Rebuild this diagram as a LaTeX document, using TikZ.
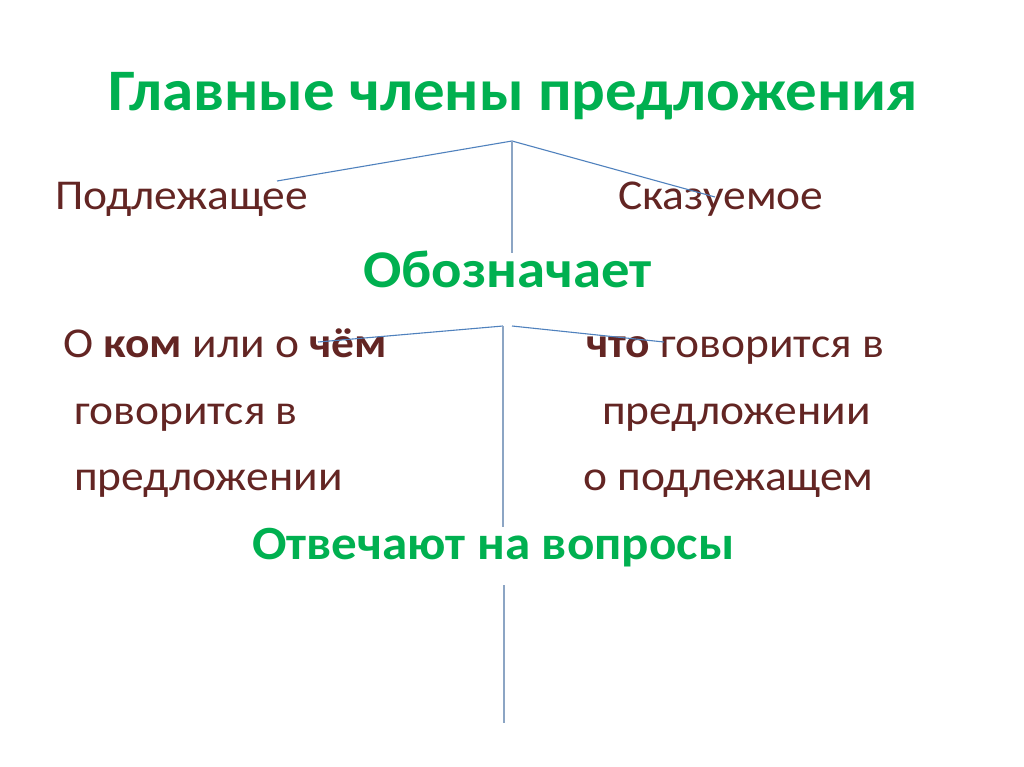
\documentclass[tikz,border=0pt]{standalone}
\usepackage{fontspec}
\setmainfont[FakeStretch=1.07]{Carlito}
\definecolor{tgreen}{HTML}{00B050}
\definecolor{tred}{HTML}{632523}
\definecolor{tline}{HTML}{4F81BD}
\definecolor{tvline}{HTML}{8CA5C4}
\begin{document}
\begin{tikzpicture}[x=1pt,y=-1pt,
  head/.style={text=tgreen,font=\fontsize{58.8}{64}\selectfont\bfseries,anchor=base west,inner sep=0pt},
  subA/.style={text=tgreen,font=\fontsize{53}{60}\selectfont\bfseries,anchor=base west,inner sep=0pt},
  subB/.style={text=tgreen,font=\fontsize{47.7}{54}\selectfont\bfseries,anchor=base west,inner sep=0pt},
  body/.style={text=tred,font=\fontsize{42.5}{50}\selectfont,anchor=base west,inner sep=0pt},
  conn/.style={draw=tline,line width=1.1pt},
  vconn/.style={draw=tvline,line width=1.3pt}]
\useasboundingbox[fill=white] (0,0) rectangle (1024,767);
\node[head] (title) at (108,111) {Главные члены предложения};
\node[body] (subj) at (55,210) {Подлежащее};
\node[body] (pred) at (618,210) {Сказуемое};
\node[subA] (mean) at (363,287) {Обозначает};
\node[body] (l1) at (63,357) {О \textbf{ком} или о \textbf{чём}};
\node[body] (r1) at (586,357) {\textbf{что} говорится в};
\node[body] (l2) at (74,424) {говорится в};
\node[body] (r2) at (602,424) {предложении};
\node[body] (l3) at (74,490) {предложении};
\node[body] (r3) at (583,490) {о подлежащем};
\node[subB] (ans) at (252,559) {Отвечают на вопросы};
\coordinate (a1) at (512,141);
\coordinate (a1l) at (277,181);
\coordinate (a1r) at (715,197);
\coordinate (a1b) at (512,253);
\coordinate (a2) at (503,326);
\coordinate (a2r) at (512,326);
\coordinate (a2l) at (318,342);
\coordinate (a2rr) at (664,342);
\coordinate (a2b) at (503,527);
\coordinate (a3t) at (504,585);
\coordinate (a3b) at (504,723);
\draw[conn] (a1l) -- (a1) -- (a1r);
\draw[vconn] (a1) -- (a1b);
\draw[conn] (a2l) -- (a2);
\draw[conn] (a2r) -- (a2rr);
\draw[vconn] (a2) -- (a2b);
\draw[vconn] (a3t) -- (a3b);
\end{tikzpicture}
\end{document}
